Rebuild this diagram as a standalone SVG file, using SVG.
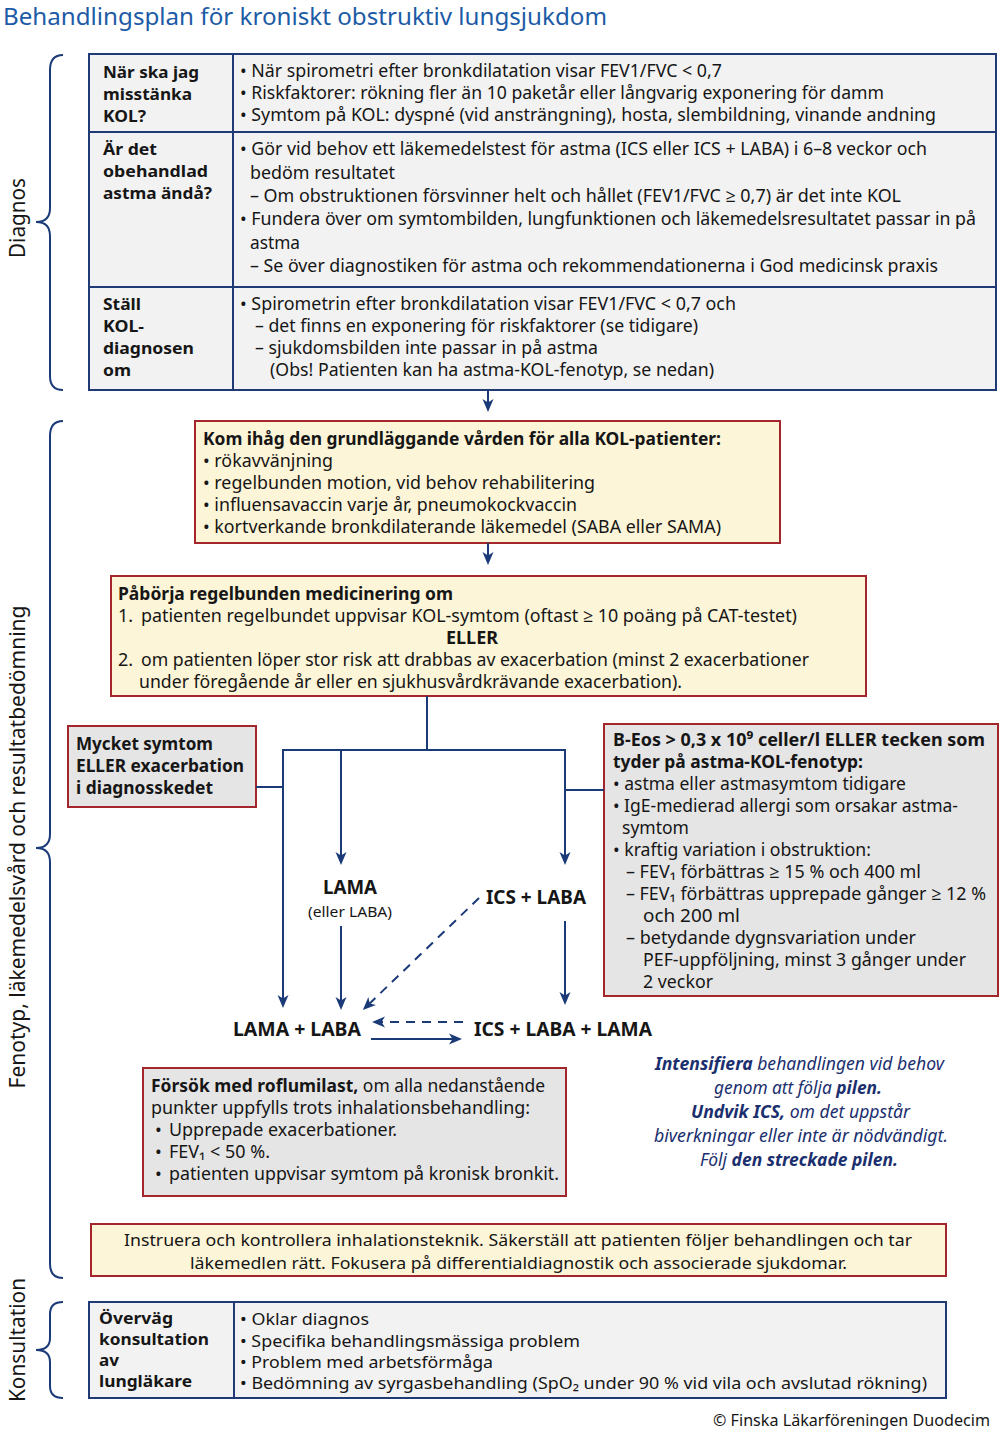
<svg xmlns="http://www.w3.org/2000/svg" width="1000" height="1435" viewBox="0 0 1000 1435">
<defs>
<style>
text{font-family:"Noto Sans","Open Sans","Liberation Sans",sans-serif;font-size:18px;fill:#161616}
.b{font-weight:700}
.it{font-style:italic;fill:#1b2f6e;font-size:17.5px}
.title{font-size:23px;fill:#1d5ba6}
.lab{font-size:22px}
.tbl{fill:#f2f2f2;stroke:#1f3a75;stroke-width:2}
.tl{stroke:#1f3a75;stroke-width:2}
.yb{fill:#fdf5d7;stroke:#a3262c;stroke-width:2}
.gb{fill:#e5e5e5;stroke:#a3262c;stroke-width:2}
.c{stroke:#1b3a78;stroke-width:2;fill:none}
.d{stroke-dasharray:9 7}
.br{stroke:#1b3a78;stroke-width:2;fill:none}
.big{font-size:20px}
.sm{font-size:15px}
.k{font-size:16px}
.lc{font-size:16.5px}
</style>
<marker id="ah" markerUnits="userSpaceOnUse" markerWidth="14" markerHeight="12" viewBox="0 0 14 12" refX="10" refY="6" orient="auto">
<path d="M0,0.5 L13,6 L0,11.5 L3.5,6 Z" fill="#1b3a78"/>
</marker>
</defs>
<rect width="1000" height="1435" fill="#ffffff"/>

<text class="title" x="3" y="25" textLength="604" lengthAdjust="spacingAndGlyphs">Behandlingsplan för kroniskt obstruktiv lungsjukdom</text>

<g id="braces">
<path class="br" d="M63,55 Q50,55 50,70 L50,208 Q50,222 36,222 Q50,222 50,236 L50,376 Q50,390 63,390"/>
<path class="br" d="M63,421 Q50,421 50,436 L50,834 Q50,848 36,848 Q50,848 50,862 L50,1264 Q50,1278 63,1278"/>
<path class="br" d="M63,1302 Q50,1302 50,1314 L50,1338 Q50,1350 36,1350 Q50,1350 50,1362 L50,1386 Q50,1398 63,1398"/>
<text class="lab" transform="translate(25,218) rotate(-90)" text-anchor="middle" textLength="80" lengthAdjust="spacingAndGlyphs">Diagnos</text>
<text class="lab" transform="translate(25,847) rotate(-90)" text-anchor="middle" textLength="483" lengthAdjust="spacingAndGlyphs">Fenotyp, läkemedelsvård och resultatbedömning</text>
<text class="lab" transform="translate(25,1340) rotate(-90)" text-anchor="middle" textLength="124" lengthAdjust="spacingAndGlyphs">Konsultation</text>
</g>

<g id="diagnos-table">
<rect class="tbl" x="89" y="54" width="907" height="336"/>
<line class="tl" x1="233" y1="54" x2="233" y2="390"/>
<line class="tl" x1="89" y1="132" x2="996" y2="132"/>
<line class="tl" x1="89" y1="287" x2="996" y2="287"/>
<text class="b lc" x="103" y="78" textLength="96" lengthAdjust="spacingAndGlyphs">När ska jag</text>
<text class="b lc" x="103" y="100" textLength="89" lengthAdjust="spacingAndGlyphs">misstänka</text>
<text class="b lc" x="103" y="122" textLength="43" lengthAdjust="spacingAndGlyphs">KOL?</text>
<text x="240" y="77" textLength="482" lengthAdjust="spacingAndGlyphs">• När spirometri efter bronkdilatation visar FEV1/FVC &lt; 0,7</text>
<text x="240" y="99" textLength="644" lengthAdjust="spacingAndGlyphs">• Riskfaktorer: rökning fler än 10 paketår eller långvarig exponering för damm</text>
<text x="240" y="121" textLength="696" lengthAdjust="spacingAndGlyphs">• Symtom på KOL: dyspné (vid ansträngning), hosta, slembildning, vinande andning</text>

<text class="b lc" x="103" y="155" textLength="54" lengthAdjust="spacingAndGlyphs">Är det</text>
<text class="b lc" x="103" y="177" textLength="105" lengthAdjust="spacingAndGlyphs">obehandlad</text>
<text class="b lc" x="103" y="199" textLength="109" lengthAdjust="spacingAndGlyphs">astma ändå?</text>
<text x="240" y="155" textLength="687" lengthAdjust="spacingAndGlyphs">• Gör vid behov ett läkemedelstest för astma (ICS eller ICS + LABA) i 6–8 veckor och</text>
<text x="250" y="179" textLength="145" lengthAdjust="spacingAndGlyphs">bedöm resultatet</text>
<text x="250" y="202" textLength="651" lengthAdjust="spacingAndGlyphs">– Om obstruktionen försvinner helt och hållet (FEV1/FVC ≥ 0,7) är det inte KOL</text>
<text x="240" y="225" textLength="736" lengthAdjust="spacingAndGlyphs">• Fundera över om symtombilden, lungfunktionen och läkemedelsresultatet passar in på</text>
<text x="250" y="249" textLength="50" lengthAdjust="spacingAndGlyphs">astma</text>
<text x="250" y="272" textLength="688" lengthAdjust="spacingAndGlyphs">– Se över diagnostiken för astma och rekommendationerna i God medicinsk praxis</text>

<text class="b lc" x="103" y="310" textLength="38" lengthAdjust="spacingAndGlyphs">Ställ</text>
<text class="b lc" x="103" y="332" textLength="41" lengthAdjust="spacingAndGlyphs">KOL-</text>
<text class="b lc" x="103" y="354" textLength="91" lengthAdjust="spacingAndGlyphs">diagnosen</text>
<text class="b lc" x="103" y="376" textLength="28" lengthAdjust="spacingAndGlyphs">om</text>
<text x="240" y="310" textLength="496" lengthAdjust="spacingAndGlyphs">• Spirometrin efter bronkdilatation visar FEV1/FVC &lt; 0,7 och</text>
<text x="255" y="332" textLength="443" lengthAdjust="spacingAndGlyphs">– det finns en exponering för riskfaktorer (se tidigare)</text>
<text x="255" y="354" textLength="343" lengthAdjust="spacingAndGlyphs">– sjukdomsbilden inte passar in på astma</text>
<text x="270" y="376" textLength="444" lengthAdjust="spacingAndGlyphs">(Obs! Patienten kan ha astma-KOL-fenotyp, se nedan)</text>
</g>

<g id="kom-ihag">
<rect class="yb" x="195" y="421" width="585" height="122"/>
<text class="b" x="203" y="445" textLength="518" lengthAdjust="spacingAndGlyphs">Kom ihåg den grundläggande vården för alla KOL-patienter:</text>
<text x="203" y="467" textLength="130" lengthAdjust="spacingAndGlyphs">• rökavvänjning</text>
<text x="203" y="489" textLength="392" lengthAdjust="spacingAndGlyphs">• regelbunden motion, vid behov rehabilitering</text>
<text x="203" y="511" textLength="374" lengthAdjust="spacingAndGlyphs">• influensavaccin varje år, pneumokockvaccin</text>
<text x="203" y="533" textLength="518" lengthAdjust="spacingAndGlyphs">• kortverkande bronkdilaterande läkemedel (SABA eller SAMA)</text>
</g>

<g id="paborja">
<rect class="yb" x="111" y="576" width="755" height="120"/>
<text class="b" x="118" y="600" textLength="335" lengthAdjust="spacingAndGlyphs">Påbörja regelbunden medicinering om</text>
<text x="118" y="622">1.</text>
<text x="141" y="622" textLength="656" lengthAdjust="spacingAndGlyphs">patienten regelbundet uppvisar KOL-symtom (oftast ≥ 10 poäng på CAT-testet)</text>
<text class="b" x="472" y="644" text-anchor="middle" textLength="52" lengthAdjust="spacingAndGlyphs">ELLER</text>
<text x="118" y="666">2.</text>
<text x="141" y="666" textLength="668" lengthAdjust="spacingAndGlyphs">om patienten löper stor risk att drabbas av exacerbation (minst 2 exacerbationer</text>
<text x="139" y="688" textLength="543" lengthAdjust="spacingAndGlyphs">under föregående år eller en sjukhusvårdkrävande exacerbation).</text>
</g>

<g id="mycket-symtom">
<rect class="gb" x="68" y="726" width="188" height="81"/>
<text class="b" x="76" y="750" textLength="137" lengthAdjust="spacingAndGlyphs">Mycket symtom</text>
<text class="b" x="76" y="772" textLength="168" lengthAdjust="spacingAndGlyphs">ELLER exacerbation</text>
<text class="b" x="76" y="794" textLength="137" lengthAdjust="spacingAndGlyphs">i diagnosskedet</text>
</g>

<g id="b-eos">
<rect class="gb" x="604" y="724" width="394" height="272"/>
<text class="b" x="613" y="746" textLength="372" lengthAdjust="spacingAndGlyphs">B-Eos &gt; 0,3 x 10⁹ celler/l  ELLER  tecken som</text>
<text class="b" x="613" y="768" textLength="250" lengthAdjust="spacingAndGlyphs">tyder på astma-KOL-fenotyp:</text>
<text x="613" y="790" textLength="293" lengthAdjust="spacingAndGlyphs">• astma eller astmasymtom tidigare</text>
<text x="613" y="812" textLength="345" lengthAdjust="spacingAndGlyphs">• IgE-medierad allergi som orsakar astma-</text>
<text x="622" y="834" textLength="67" lengthAdjust="spacingAndGlyphs">symtom</text>
<text x="613" y="856" textLength="258" lengthAdjust="spacingAndGlyphs">• kraftig variation i obstruktion:</text>
<text x="626" y="878" textLength="295" lengthAdjust="spacingAndGlyphs">– FEV₁ förbättras ≥ 15 % och 400 ml</text>
<text x="626" y="900" textLength="360" lengthAdjust="spacingAndGlyphs">– FEV₁ förbättras upprepade gånger ≥ 12 %</text>
<text x="643" y="922" textLength="97" lengthAdjust="spacingAndGlyphs">och 200 ml</text>
<text x="626" y="944" textLength="290" lengthAdjust="spacingAndGlyphs">– betydande dygnsvariation under</text>
<text x="643" y="966" textLength="323" lengthAdjust="spacingAndGlyphs">PEF-uppföljning, minst 3 gånger under</text>
<text x="643" y="988" textLength="70" lengthAdjust="spacingAndGlyphs">2 veckor</text>
</g>

<g id="lama">
<text class="b big" x="350" y="894" text-anchor="middle" textLength="54" lengthAdjust="spacingAndGlyphs">LAMA</text>
<text class="sm" x="350" y="917" text-anchor="middle" textLength="84" lengthAdjust="spacingAndGlyphs">(eller LABA)</text>
</g>
<g id="ics-laba">
<text class="b big" x="486" y="904" textLength="100" lengthAdjust="spacingAndGlyphs">ICS + LABA</text>
</g>
<g id="lama-laba">
<text class="b big" x="233" y="1036" textLength="128" lengthAdjust="spacingAndGlyphs">LAMA + LABA</text>
</g>
<g id="ics-laba-lama">
<text class="b big" x="474" y="1036" textLength="178" lengthAdjust="spacingAndGlyphs">ICS + LABA + LAMA</text>
</g>

<g id="roflumilast">
<rect class="gb" x="143" y="1068" width="423" height="128"/>
<text x="151" y="1092" textLength="394" lengthAdjust="spacingAndGlyphs"><tspan class="b">Försök med roflumilast,</tspan> om alla nedanstående</text>
<text x="151" y="1114" textLength="379" lengthAdjust="spacingAndGlyphs">punkter uppfylls trots inhalationsbehandling:</text>
<text x="155" y="1136">•</text>
<text x="169" y="1136" textLength="228" lengthAdjust="spacingAndGlyphs">Upprepade exacerbationer.</text>
<text x="155" y="1158">•</text>
<text x="169" y="1158" textLength="101" lengthAdjust="spacingAndGlyphs">FEV₁ &lt; 50 %.</text>
<text x="155" y="1180">•</text>
<text x="169" y="1180" textLength="390" lengthAdjust="spacingAndGlyphs">patienten uppvisar symtom på kronisk bronkit.</text>
</g>

<g id="note">
<text class="it" x="655" y="1070" textLength="289" lengthAdjust="spacingAndGlyphs"><tspan class="b">Intensifiera</tspan> behandlingen vid behov</text>
<text class="it" x="714" y="1094" textLength="168" lengthAdjust="spacingAndGlyphs">genom att följa <tspan class="b">pilen.</tspan></text>
<text class="it" x="691" y="1118" textLength="219" lengthAdjust="spacingAndGlyphs"><tspan class="b">Undvik ICS,</tspan> om det uppstår</text>
<text class="it" x="654" y="1142" textLength="294" lengthAdjust="spacingAndGlyphs">biverkningar eller inte är nödvändigt.</text>
<text class="it" x="700" y="1166" textLength="198" lengthAdjust="spacingAndGlyphs">Följ <tspan class="b">den streckade pilen.</tspan></text>
</g>

<g id="instruera">
<rect class="yb" x="91" y="1224" width="855" height="52"/>
<text x="124" y="1246" style="font-size:16.5px" textLength="788" lengthAdjust="spacingAndGlyphs">Instruera och kontrollera inhalationsteknik. Säkerställ att patienten följer behandlingen och tar</text>
<text x="190" y="1269" style="font-size:16.5px" textLength="657" lengthAdjust="spacingAndGlyphs">läkemedlen rätt. Fokusera på differentialdiagnostik och associerade sjukdomar.</text>
</g>

<g id="konsultation-table">
<rect class="tbl" x="89" y="1302" width="857" height="96"/>
<line class="tl" x1="234" y1="1302" x2="234" y2="1398"/>
<text class="b k" x="99" y="1324" textLength="74" lengthAdjust="spacingAndGlyphs">Överväg</text>
<text class="b k" x="99" y="1345" textLength="110" lengthAdjust="spacingAndGlyphs">konsultation</text>
<text class="b k" x="99" y="1366" textLength="20" lengthAdjust="spacingAndGlyphs">av</text>
<text class="b k" x="99" y="1387" textLength="93" lengthAdjust="spacingAndGlyphs">lungläkare</text>
<text class="k" x="240" y="1325" textLength="129" lengthAdjust="spacingAndGlyphs">• Oklar diagnos</text>
<text class="k" x="240" y="1347" textLength="340" lengthAdjust="spacingAndGlyphs">• Specifika behandlingsmässiga problem</text>
<text class="k" x="240" y="1368" textLength="253" lengthAdjust="spacingAndGlyphs">• Problem med arbetsförmåga</text>
<text class="k" x="240" y="1389" textLength="687" lengthAdjust="spacingAndGlyphs">• Bedömning av syrgasbehandling (SpO₂ under 90 % vid vila och avslutad rökning)</text>
</g>

<text x="990" y="1426" text-anchor="end" style="font-size:16px" textLength="277" lengthAdjust="spacingAndGlyphs">© Finska Läkarföreningen Duodecim</text>

<g id="connectors">
<line class="c" x1="488" y1="390" x2="488" y2="409" marker-end="url(#ah)"/>
<line class="c" x1="488" y1="543" x2="488" y2="562" marker-end="url(#ah)"/>
<polyline class="c" points="427,696 427,750"/>
<polyline class="c" points="283,750 565,750 565,862" marker-end="url(#ah)"/>
<line class="c" x1="341" y1="750" x2="341" y2="862" marker-end="url(#ah)"/>
<line class="c" x1="256" y1="787" x2="283" y2="787"/>
<line class="c" x1="565" y1="790" x2="604" y2="790"/>
<line class="c" x1="283" y1="749" x2="283" y2="1005" marker-end="url(#ah)"/>
<line class="c" x1="341" y1="926" x2="341" y2="1007" marker-end="url(#ah)"/>
<line class="c" x1="565" y1="921" x2="565" y2="1002" marker-end="url(#ah)"/>
<line class="c d" x1="479" y1="898" x2="365" y2="1008" marker-end="url(#ah)"/>
<line class="c d" x1="463" y1="1022" x2="375" y2="1022" marker-end="url(#ah)"/>
<line class="c" x1="371" y1="1039" x2="459" y2="1039" marker-end="url(#ah)"/>
</g>
</svg>
